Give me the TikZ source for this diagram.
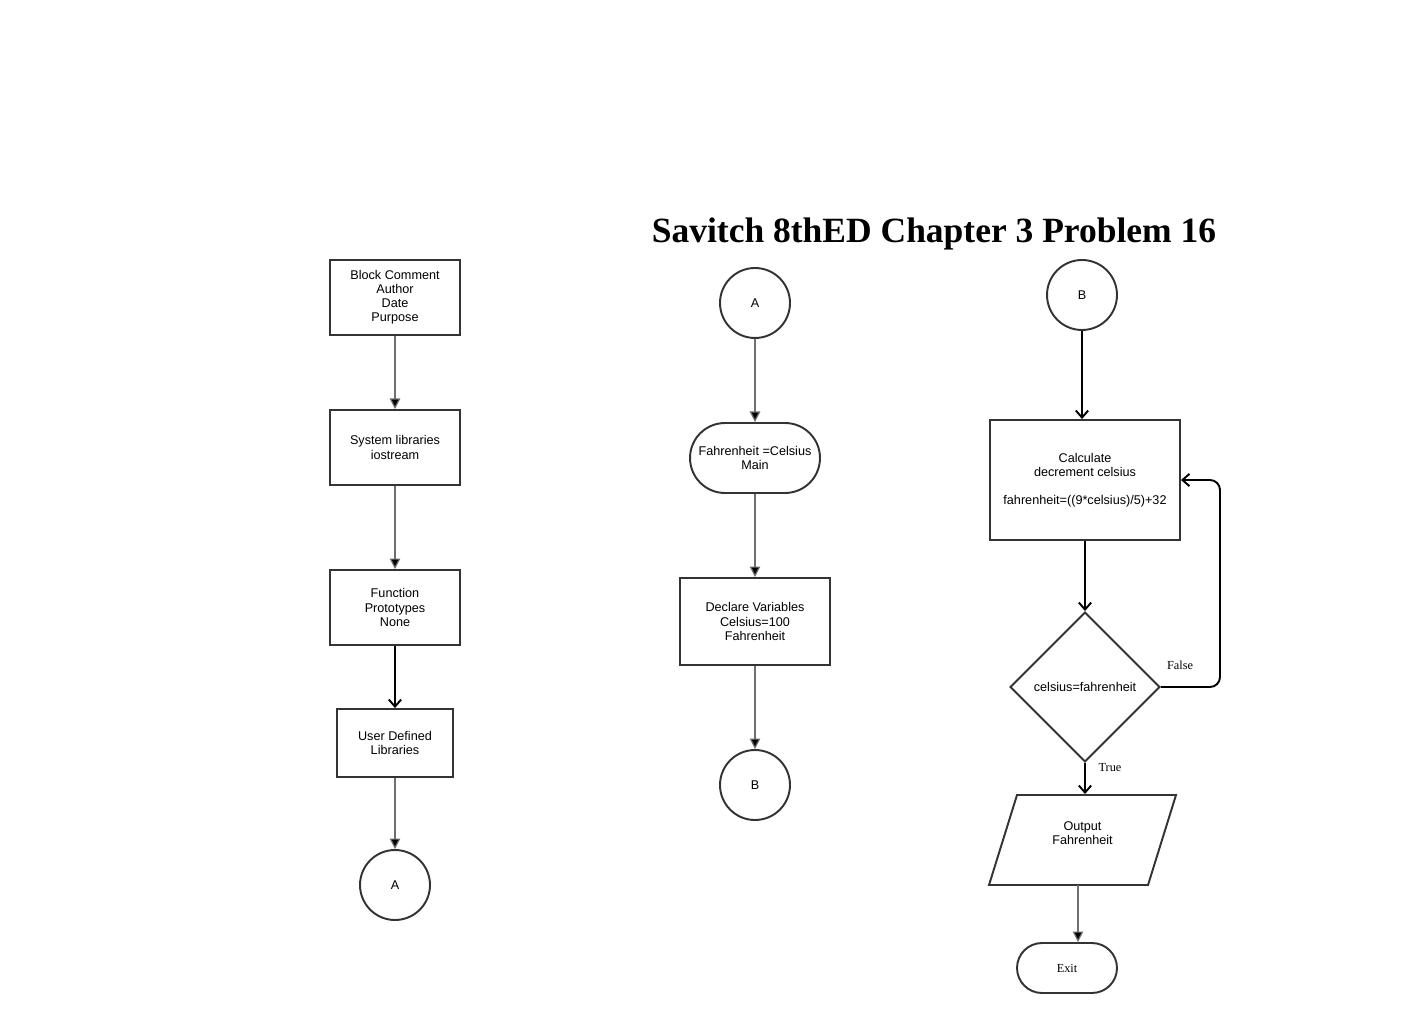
\documentclass[tikz,border=0pt]{standalone}
\usepackage{fontspec}
\setmainfont{Liberation Serif}
\newfontfamily\arialf{Liberation Sans}
\usetikzlibrary{arrows.meta,shapes.geometric}
\definecolor{bord}{HTML}{333333}
\definecolor{thinln}{HTML}{707070}
\tikzset{
  box/.style={draw=bord,line width=1.1pt,rectangle,align=center,font=\arialf\fontsize{7.2}{8}\selectfont,inner sep=0pt},
  conn/.style={draw=bord,line width=1.1pt,circle,minimum size=1.4cm,inner sep=0pt,font=\arialf\fontsize{7.2}{8}\selectfont},
  thinarrow/.style={draw=thinln,line width=0.7pt,-{Triangle[length=6pt,width=6pt,fill=black]}},
  thickarrow/.style={draw=black,line width=1.1pt,-{Straight Barb[length=4pt,width=7pt]}},
  lbl/.style={font=\fontsize{7}{8}\selectfont,inner sep=0pt}
}
\begin{document}
\begin{tikzpicture}[x=0.02cm,y=-0.02cm]
\useasboundingbox (0,0) rectangle (1426,1013);
% title
\node[font=\bfseries\fontsize{20.2}{24}\selectfont,inner sep=0pt] (title) at (934,234) {Savitch 8thED Chapter 3 Problem 16};
% left column
\node[box,minimum width=2.6cm,minimum height=1.5cm] (bc) at (395,297.5) {Block Comment\\Author\\Date\\Purpose};
\node[box,minimum width=2.6cm,minimum height=1.5cm] (sys) at (395,447.5) {System libraries\\iostream};
\node[box,minimum width=2.6cm,minimum height=1.5cm] (fp) at (395,607.5) {Function\\Prototypes\\None};
\node[box,minimum width=2.32cm,minimum height=1.36cm] (ud) at (395,743) {User Defined\\Libraries};
\node[conn] (a1) at (395,885) {A};
\draw[thinarrow] (bc.south) -- (sys.north);
\draw[thinarrow] (sys.south) -- (fp.north);
\draw[thickarrow] (fp.south) -- (ud.north);
\draw[thinarrow] (ud.south) -- (a1.north);
% middle column
\node[conn] (a2) at (755,303) {A};
\node[box,minimum width=2.6cm,minimum height=1.4cm,rounded corners=0.7cm] (main) at (755,458) {Fahrenheit =Celsius\\Main};
\node[box,minimum width=3.0cm,minimum height=1.74cm] (dv) at (755,621.5) {Declare Variables\\Celsius=100\\Fahrenheit};
\node[conn] (b1) at (755,785) {B};
\draw[thinarrow] (a2.south) -- (main.north);
\draw[thinarrow] (main.south) -- (dv.north);
\draw[thinarrow] (dv.south) -- (b1.north);
% right column
\node[conn] (b2) at (1082,295) {B};
\node[box,minimum width=3.8cm,minimum height=2.4cm] (calc) at (1085,480) {Calculate\\decrement celsius\\[8pt]fahrenheit=((9*celsius)/5)+32};
\node[box,diamond,minimum width=3.0cm,minimum height=3.0cm] (dec) at (1085,687) {celsius=fahrenheit};
\node[box,draw=none,minimum width=3.74cm,minimum height=1.8cm] (out) at (1082.5,840) {};
\node[box,draw=none] (outtxt) at (1082.5,833) {Output\\Fahrenheit};
\draw[draw=bord,line width=1.1pt] (1017,795) -- (1176,795) -- (1148,885) -- (989,885) -- cycle;
\node[box,minimum width=2.0cm,minimum height=1.0cm,rounded corners=0.5cm,font=\fontsize{7}{8}\selectfont] (exit) at (1067,968) {Exit};
\draw[thickarrow] (b2.south) -- (calc.north -| b2.south);
\draw[thickarrow] (calc.south) -- (dec.north);
\draw[thickarrow,rounded corners=0.2cm] (dec.east) -- (1220,687) -- (1220,480) -- (calc.east);
\draw[thickarrow] (dec.south) -- (out.north -| dec.south);
\draw[thinarrow] (1078,885) -- (exit.north -| 1078,0);
\node[lbl] (flbl) at (1180,665) {False};
\node[lbl] (tlbl) at (1110,768) {True};
\end{tikzpicture}
\end{document}
